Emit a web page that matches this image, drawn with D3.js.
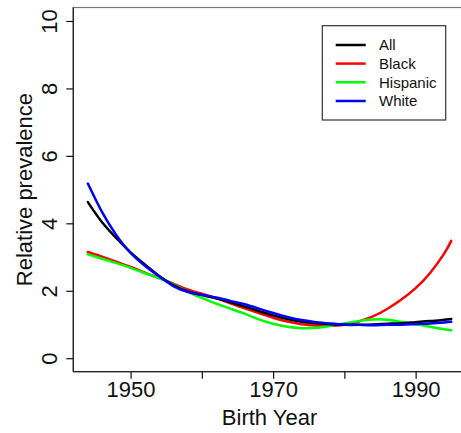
<!DOCTYPE html>
<html>
<head>
<meta charset="utf-8">
<script src="https://cdn.jsdelivr.net/npm/d3@7"></script>
<style>
  html, body { margin: 0; padding: 0; background: #fff; }
  svg { display: block; font-family: "Liberation Sans", Arial, Helvetica, sans-serif; }
</style>
</head>
<body>
<svg id="chart" width="461" height="433"></svg>
<script>
// Birth years at which the smoothed curves are sampled
const years = [1944, 1946, 1948, 1950, 1952, 1954, 1956, 1958, 1960, 1962, 1964,
               1966, 1968, 1970, 1972, 1974, 1976, 1978, 1980, 1982, 1984, 1986,
               1988, 1990, 1992, 1994, 1995];

// Relative prevalence by group
const allValues      = [4.63, 4.03, 3.56, 3.14, 2.78, 2.44, 2.17, 1.98, 1.87, 1.78, 1.66,
                        1.53, 1.40, 1.27, 1.16, 1.08, 1.04, 1.01, 0.99, 0.99, 1.00, 1.02,
                        1.04, 1.07, 1.10, 1.14, 1.16];
const blackValues    = [3.15, 3.01, 2.86, 2.71, 2.54, 2.38, 2.21, 2.04, 1.91, 1.78, 1.63,
                        1.48, 1.34, 1.20, 1.09, 1.01, 0.97, 0.96, 0.99, 1.09, 1.24, 1.46,
                        1.74, 2.08, 2.52, 3.10, 3.48];
const hispanicValues = [3.08, 2.95, 2.82, 2.68, 2.52, 2.37, 2.19, 1.97, 1.79, 1.62, 1.47,
                        1.32, 1.15, 1.02, 0.93, 0.89, 0.90, 0.96, 1.03, 1.10, 1.15, 1.14,
                        1.08, 1.01, 0.93, 0.86, 0.83];
const whiteValues    = [5.18, 4.33, 3.65, 3.12, 2.74, 2.43, 2.14, 1.97, 1.88, 1.80, 1.70,
                        1.60, 1.47, 1.34, 1.22, 1.13, 1.07, 1.03, 1.00, 0.99, 0.98, 0.99,
                        0.99, 1.01, 1.03, 1.06, 1.08];

const seriesNames  = ["All", "Black", "Hispanic", "White"];
const seriesColors = ["#000000", "#ff0000", "#00ff00", "#0000ff"];
const seriesValues = [allValues, blackValues, hispanicValues, whiteValues];

const xTicks = [1950, 1960, 1970, 1980, 1990];
const xTickLabels = { 1950: "1950", 1970: "1970", 1990: "1990" };
const yTicks = [0, 2, 4, 6, 8, 10];

const svg = d3.select("#chart");

// Plot region (ranges padded by 4% on each side, like base graphics)
const plotLeft = 73.3, plotRight = 465.8, plotTop = 7.5, plotBottom = 371.7;
const xPad = (1995 - 1944) * 0.04, yPad = 10 * 0.04;
const x = d3.scaleLinear().domain([1944 - xPad, 1995 + xPad]).range([plotLeft, plotRight]);
const y = d3.scaleLinear().domain([0 - yPad, 10 + yPad]).range([plotBottom, plotTop]);

// Plot frame
svg.append("rect")
  .attr("x", plotLeft).attr("y", plotTop)
  .attr("width", plotRight - plotLeft).attr("height", plotBottom - plotTop)
  .attr("fill", "none").attr("stroke", "#7a7a7a").attr("stroke-width", 1.2);

// Curves
const line = d3.line()
  .x((d, i) => x(years[i]))
  .y(d => y(d))
  .curve(d3.curveNatural);

const drawOrder = [1, 2, 0, 3];
drawOrder.forEach(k => {
  svg.append("path")
    .datum(seriesValues[k])
    .attr("d", line)
    .attr("fill", "none")
    .attr("stroke", seriesColors[k])
    .attr("stroke-width", 2.5)
    .attr("stroke-linejoin", "round")
    .attr("stroke-linecap", "round");
});

// X axis
const xAxis = svg.append("g")
  .attr("transform", `translate(0,${plotBottom})`)
  .call(d3.axisBottom(x).tickValues(xTicks)
    .tickFormat(d => xTickLabels[d] || "")
    .tickSize(7).tickSizeOuter(0));
xAxis.select(".domain").remove();
xAxis.selectAll(".tick line").attr("stroke", "#111").attr("stroke-width", 1.2);
xAxis.selectAll(".tick text")
  .attr("y", 25).attr("dy", 0)
  .attr("font-size", 22).attr("fill", "#111")
  .attr("font-family", "Liberation Sans, Arial, sans-serif");

// Y axis
const yAxis = svg.append("g")
  .attr("transform", `translate(${plotLeft},0)`)
  .call(d3.axisLeft(y).tickValues(yTicks).tickFormat(d3.format("d"))
    .tickSize(7).tickSizeOuter(0));
yAxis.select(".domain").remove();
yAxis.selectAll(".tick line").attr("stroke", "#111").attr("stroke-width", 1.2);
yAxis.selectAll(".tick text")
  .attr("transform", "rotate(-90)")
  .attr("x", 0).attr("y", -16).attr("dy", 0)
  .attr("text-anchor", "middle")
  .attr("font-size", 22).attr("fill", "#111")
  .attr("font-family", "Liberation Sans, Arial, sans-serif");

// Axis lines along left and bottom edges
svg.append("line")
  .attr("x1", plotLeft).attr("x2", plotLeft).attr("y1", plotTop).attr("y2", plotBottom)
  .attr("stroke", "#222").attr("stroke-width", 1.3);
svg.append("line")
  .attr("x1", plotLeft).attr("x2", plotRight).attr("y1", plotBottom).attr("y2", plotBottom)
  .attr("stroke", "#222").attr("stroke-width", 1.3);

// Axis titles
svg.append("text")
  .attr("x", (plotLeft + plotRight) / 2).attr("y", 425)
  .attr("text-anchor", "middle")
  .attr("font-size", 22).attr("fill", "#111")
  .text("Birth Year");

svg.append("text")
  .attr("transform", `translate(31.7,${(plotTop + plotBottom) / 2}) rotate(-90)`)
  .attr("text-anchor", "middle")
  .attr("font-size", 22).attr("fill", "#111")
  .text("Relative prevalence");

// Legend
const legend = svg.append("g");
legend.append("rect")
  .attr("x", 322.3).attr("y", 25.7)
  .attr("width", 123.4).attr("height", 94.3)
  .attr("fill", "#fff").attr("stroke", "#333").attr("stroke-width", 1.2);

const legendRows = [45, 63.6, 82.3, 101];
seriesNames.forEach((name, i) => {
  legend.append("line")
    .attr("x1", 335.7).attr("x2", 365.7)
    .attr("y1", legendRows[i]).attr("y2", legendRows[i])
    .attr("stroke", seriesColors[i]).attr("stroke-width", 2.5);
  legend.append("text")
    .attr("x", 379).attr("y", legendRows[i])
    .attr("dy", "0.36em")
    .attr("font-size", 15).attr("fill", "#111")
    .text(name);
});
</script>
</body>
</html>
